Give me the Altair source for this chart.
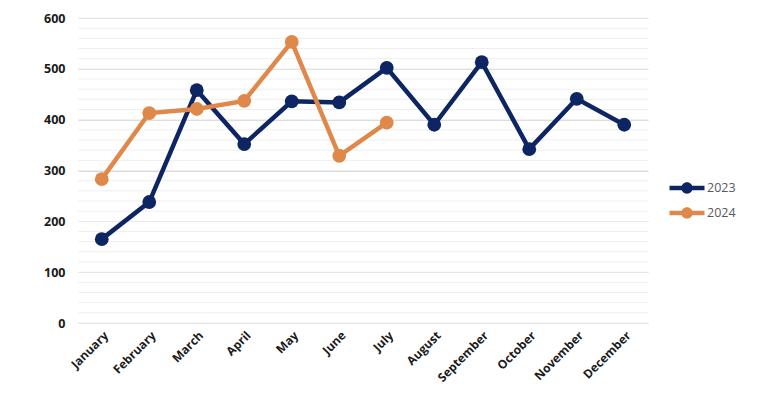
import altair as alt
import pandas as pd

months = ["January", "February", "March", "April", "May", "June", "July",
          "August", "September", "October", "November", "December"]
values_2023 = [165, 238, 458, 352, 436, 434, 502, 390, 513, 342, 441, 390]
values_2024 = [283, 413, 421, 437, 553, 329, 394]
series = ["2023", "2024"]
colors = ["#0d2562", "#e0884a"]
y_ticks = [0, 100, 200, 300, 400, 500, 600]
minor_ticks = [v for v in range(0, 601, 20)]

rows = []
for m, v in zip(months, values_2023):
    rows.append({"month": m, "value": v, "year": "2023"})
for m, v in zip(months, values_2024):
    rows.append({"month": m, "value": v, "year": "2024"})
df = pd.DataFrame(rows)

legend_shape = ("M-2,-0.25L2,-0.25L2,0.25L-2,0.25Z"
                "M0.65,0A0.65,0.65 0 1,1 -0.65,0A0.65,0.65 0 1,1 0.65,0Z")

y_scale = alt.Scale(domain=[0, 600], nice=False, zero=True)
y_axis = alt.Axis(title=None, values=y_ticks, grid=True, gridColor="#d9d9d9",
                  gridWidth=1, ticks=False, domain=False,
                  labelFont="Open Sans", labelFontWeight="bold",
                  labelFontSize=12.5, labelColor="#1a1a1a", labelPadding=13)
x_axis = alt.Axis(title=None, labelAngle=-45, labelAlign="right",
                  labelBaseline="middle", labelFont="Open Sans",
                  labelFontWeight="bold", labelFontSize=12,
                  labelColor="#1a1a1a", ticks=False, domain=False,
                  labelPadding=10, labelOffset=4, grid=False)
color_scale = alt.Scale(domain=series, range=colors)

minor = pd.DataFrame({"v": minor_ticks})
minor_layer = alt.Chart(minor).mark_rule(color="#efefef", strokeWidth=1).encode(
    y=alt.Y("v:Q", scale=y_scale, axis=y_axis)
)

base = alt.Chart(df)
line = base.mark_line(strokeWidth=4.5).encode(
    x=alt.X("month:N", sort=months, scale=alt.Scale(domain=months, padding=0.5), axis=x_axis),
    y=alt.Y("value:Q", scale=y_scale, axis=y_axis),
    color=alt.Color("year:N", scale=color_scale,
                    legend=alt.Legend(title=None, orient="none", legendX=600,
                                      legendY=161, symbolType=legend_shape,
                                      symbolSize=306, symbolStrokeWidth=0,
                                      labelFont="Open Sans",
                                      labelFontSize=12.5, labelColor="#595959",
                                      labelOffset=11, rowPadding=9)),
)
points = base.mark_circle(size=190, opacity=1).encode(
    x=alt.X("month:N", sort=months, axis=x_axis),
    y=alt.Y("value:Q", scale=y_scale, axis=y_axis),
    color=alt.Color("year:N", scale=color_scale, legend=None),
)

chart = alt.layer(minor_layer, line, points).properties(
    width=570, height=305,
    autosize=alt.AutoSizeParams(type="none"),
    padding={"left": 70, "top": 10, "right": 98, "bottom": 65},
).configure_view(stroke=None)

chart.save("out.html", embed_options={"renderer": "svg", "actions": False})
